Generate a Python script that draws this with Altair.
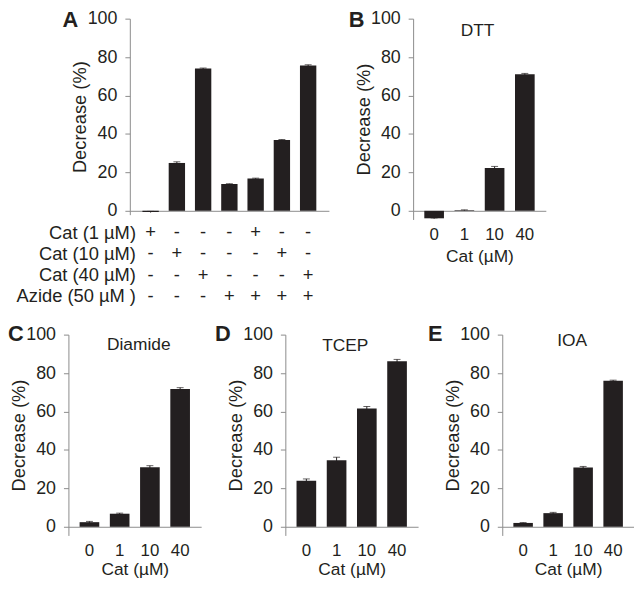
import altair as alt
import pandas as pd

FONT = "Liberation Sans"
TXT = "#231f20"
AXC = "#8c8c8c"
BARC = "#231f20"

# ---------------- data ----------------
a_conditions = ["c1", "c2", "c3", "c4", "c5", "c6", "c7"]
a_values = [-0.6, 24.9, 74.0, 13.9, 16.8, 36.8, 75.6]
a_errors = [0.3, 0.6, 0.3, 0.2, 0.2, 0.3, 0.4]

table_rows = ["Cat (1 µM)", "Cat (10 µM)", "Cat (40 µM)", "Azide (50 µM )"]
table_signs = [
    ["+", "-", "-", "-", "+", "-", "-"],
    ["-", "+", "-", "-", "-", "+", "-"],
    ["-", "-", "+", "-", "-", "-", "+"],
    ["-", "-", "-", "+", "+", "+", "+"],
]

cat_levels = ["0", "1", "10", "40"]
dtt_values = [-3.9, 0.3, 22.3, 71.1]
dtt_errors = [0.2, 0.2, 0.8, 0.4]
diamide_values = [2.4, 6.8, 31.0, 71.7]
diamide_errors = [0.4, 0.3, 0.8, 0.7]
tcep_values = [24.0, 34.6, 61.6, 86.1]
tcep_errors = [0.9, 1.6, 1.0, 1.0]
ioa_values = [2.0, 7.1, 30.9, 76.0]
ioa_errors = [0.2, 0.4, 0.5, 0.3]

Y_TICKS = [0, 20, 40, 60, 80, 100]

# ---------------- layout (pixels inside the view) ----------------
W, H = 632, 575
TOP1, ZERO1 = 8, 202        # top row: y of 100 and of 0
TOP2, ZERO2 = 327, 521      # bottom row
A_X = (123, 324)
B_X = (409, 543)
C_X = (61, 195)
D_X = (280, 414)
E_X = (499, 632)
A_PI, A_PO = 0.377, 0.48
PI, PO = 0.35, 0.37


def y_axis(x0):
    return alt.Axis(orient="left", offset=-x0, values=Y_TICKS,
                    title="Decrease (%)", grid=False,
                    domainColor=AXC, domainWidth=1, tickColor=AXC, tickSize=5,
                    tickWidth=1, labelPadding=8, labelFontSize=18,
                    labelColor=TXT, labelFont=FONT, titleFont=FONT,
                    titleFontSize=18.5, titleFontWeight="normal",
                    titleColor=TXT, titlePadding=-2.5, labelFlush=False)


def x_axis(zero_y, label_pad, title_pad, labels=True):
    if labels:
        return alt.Axis(orient="bottom", offset=zero_y - H, title="Cat (µM)",
                        labelAngle=0, domain=True, domainColor=AXC,
                        domainWidth=1, ticks=False, tickSize=0, grid=False,
                        labelPadding=label_pad, labelFontSize=17,
                        labelColor=TXT, labelFont=FONT, titleFont=FONT,
                        titleFontSize=17.5, titleFontWeight="normal",
                        titleColor=TXT, titlePadding=title_pad)
    return alt.Axis(orient="bottom", offset=zero_y - H, title=None,
                    labels=False, domain=True, domainColor=AXC, grid=False,
                    domainWidth=1, ticks=False, tickSize=0)


def bar_panel(cats, values, errors, xr, top, zero, ydom, pi, po, xaxis):
    df = pd.DataFrame({
        "cat": cats,
        "value": values,
        "lo": [v - e for v, e in zip(values, errors)],
        "hi": [v + e for v, e in zip(values, errors)],
    })
    ppu = (zero - top) / 100.0
    xs = alt.Scale(domain=cats, range=list(xr), paddingInner=pi,
                   paddingOuter=po)
    ys = alt.Scale(domain=ydom, range=[zero - ydom[0] * ppu, top],
                   nice=False, zero=False)
    yax = y_axis(xr[0])
    xenc = alt.X("cat:N", sort=cats, scale=xs, axis=xaxis)
    base = alt.Chart(df)
    bars = base.mark_bar(color=BARC).encode(
        x=xenc, y=alt.Y("value:Q", scale=ys, axis=yax))
    err = base.mark_rule(color=BARC, strokeWidth=1).encode(
        x=xenc, y=alt.Y("lo:Q", scale=ys, axis=yax), y2="hi:Q")
    cap = base.mark_tick(color=BARC, thickness=1, size=7,
                         orient="horizontal").encode(
        x=xenc, y=alt.Y("hi:Q", scale=ys, axis=yax))
    return alt.layer(bars, err, cap)


def label(text, x, y, size=17.5, bold=False, align="center",
          baseline="middle"):
    return alt.Chart(pd.DataFrame({"t": [text]})).mark_text(
        fontSize=size, fontWeight="bold" if bold else "normal", color=TXT,
        font=FONT, align=align, baseline=baseline).encode(
        x=alt.value(x), y=alt.value(y), text="t:N")


# ---------------- panel A with condition table ----------------
a_bars = bar_panel(a_conditions, a_values, a_errors, A_X, TOP1, ZERO1,
                   [-2, 100], A_PI, A_PO, x_axis(ZERO1, 0, 0, labels=False))

trows = []
for r, signs in zip(table_rows, table_signs):
    for c, s in zip(a_conditions, signs):
        trows.append({"row": r, "cond": c, "sign": s})
tdf = pd.DataFrame(trows)
row_scale = alt.Scale(type="point", domain=table_rows,
                      range=[223.7, 287.8], padding=0)
row_axis = alt.Axis(orient="left", offset=-(A_X[0] + 5.7), title=None,
                    domain=False, ticks=False, tickSize=0, labelPadding=0,
                    grid=False, labelFontSize=18.5, labelColor=TXT,
                    labelFont=FONT)
signs = alt.Chart(tdf).mark_text(fontSize=18.5, color=TXT, font=FONT).encode(
    x=alt.X("cond:N", sort=a_conditions,
            scale=alt.Scale(domain=a_conditions, range=list(A_X),
                            paddingInner=A_PI, paddingOuter=A_PO),
            axis=x_axis(ZERO1, 0, 0, labels=False)),
    y=alt.Y("row:N", sort=table_rows, scale=row_scale, axis=row_axis),
    text="sign:N",
)
panel_a = alt.layer(a_bars, signs).resolve_scale(y="independent")

# ---------------- panels B to E ----------------
panel_b = bar_panel(cat_levels, dtt_values, dtt_errors, B_X, TOP1, ZERO1,
                    [-4.5, 100], PI, PO, x_axis(ZERO1, 16.4, 4.7))
panel_c = bar_panel(cat_levels, diamide_values, diamide_errors, C_X, TOP2,
                    ZERO2, [-4.5, 100], PI, PO, x_axis(ZERO2, 15.7, 2.2))
panel_d = bar_panel(cat_levels, tcep_values, tcep_errors, D_X, TOP2,
                    ZERO2, [-4.5, 100], PI, PO, x_axis(ZERO2, 15.7, 2.2))
panel_e = bar_panel(cat_levels, ioa_values, ioa_errors, E_X, TOP2,
                    ZERO2, [-4.5, 100], PI, PO, x_axis(ZERO2, 15.7, 2.2))

texts = [
    label("A", 55, 16.5, 22, True, "left", "alphabetic"),
    label("B", 344, 16.5, 22, True, "left", "alphabetic"),
    label("C", 0, 333.3, 22, True, "left", "alphabetic"),
    label("D", 209, 333.3, 22, True, "left", "alphabetic"),
    label("E", 424, 333.3, 22, True, "left", "alphabetic"),
    label("DTT", 474, 21),
    label("Diamide", 132, 337.5),
    label("TCEP", 340.5, 339),
    label("IOA", 569.5, 333.5),
]

chart = alt.layer(
    panel_a, panel_b, panel_c, panel_d, panel_e, *texts
).resolve_scale(x="independent", y="independent").properties(
    width=W, height=H,
    autosize=alt.AutoSizeParams(type="none"),
    padding={"left": 0, "top": 0, "right": 0, "bottom": 0},
    background="white",
).configure(font=FONT).configure_view(stroke=None, strokeWidth=0)

chart.save("out.html", embed_options={"renderer": "svg", "actions": False})
